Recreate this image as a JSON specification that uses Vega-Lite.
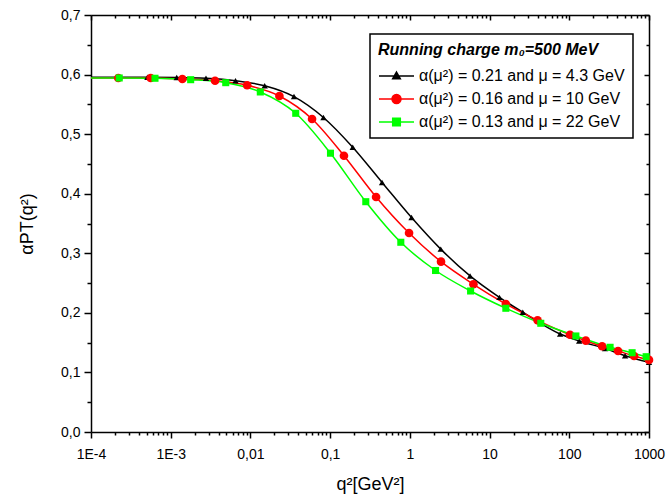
{
  "$schema": "https://vega.github.io/schema/vega-lite/v6.json",
  "width": 558,
  "height": 417,
  "autosize": "none",
  "padding": {"left": 91, "top": 15, "right": 18, "bottom": 65},
  "background": "white",
  "config": {
    "view": {"stroke": null},
    "axis": {
      "domainColor": "black",
      "domainWidth": 1.5,
      "tickColor": "black",
      "tickWidth": 1.5,
      "grid": false,
      "labelFont": "Liberation Sans",
      "labelFontSize": 14,
      "labelColor": "black",
      "titleFont": "Liberation Sans",
      "titleFontSize": 18,
      "titleFontWeight": "normal",
      "titleColor": "black",
      "labelOverlap": false,
      "labelFlush": false
    }
  },
  "datasets": {
    "curves": [
      {"s": "α(μ²) = 0.21 and μ = 4.3 GeV", "q": 0.0001, "a": 0.5955, "m": 0},
      {"s": "α(μ²) = 0.21 and μ = 4.3 GeV", "q": 0.000218, "a": 0.5955, "m": 1},
      {"s": "α(μ²) = 0.21 and μ = 4.3 GeV", "q": 0.00051, "a": 0.5955, "m": 1},
      {"s": "α(μ²) = 0.21 and μ = 4.3 GeV", "q": 0.00119, "a": 0.5952, "m": 1},
      {"s": "α(μ²) = 0.21 and μ = 4.3 GeV", "q": 0.00277, "a": 0.5938, "m": 1},
      {"s": "α(μ²) = 0.21 and μ = 4.3 GeV", "q": 0.0065, "a": 0.5897, "m": 1},
      {"s": "α(μ²) = 0.21 and μ = 4.3 GeV", "q": 0.0151, "a": 0.5813, "m": 1},
      {"s": "α(μ²) = 0.21 and μ = 4.3 GeV", "q": 0.0352, "a": 0.563, "m": 1},
      {"s": "α(μ²) = 0.21 and μ = 4.3 GeV", "q": 0.0824, "a": 0.528, "m": 1},
      {"s": "α(μ²) = 0.21 and μ = 4.3 GeV", "q": 0.192, "a": 0.478, "m": 1},
      {"s": "α(μ²) = 0.21 and μ = 4.3 GeV", "q": 0.448, "a": 0.419, "m": 1},
      {"s": "α(μ²) = 0.21 and μ = 4.3 GeV", "q": 1.05, "a": 0.36, "m": 1},
      {"s": "α(μ²) = 0.21 and μ = 4.3 GeV", "q": 2.44, "a": 0.307, "m": 1},
      {"s": "α(μ²) = 0.21 and μ = 4.3 GeV", "q": 5.69, "a": 0.262, "m": 1},
      {"s": "α(μ²) = 0.21 and μ = 4.3 GeV", "q": 13.3, "a": 0.226, "m": 1},
      {"s": "α(μ²) = 0.21 and μ = 4.3 GeV", "q": 26.1, "a": 0.201, "m": 1},
      {"s": "α(μ²) = 0.21 and μ = 4.3 GeV", "q": 76.7, "a": 0.1645, "m": 1},
      {"s": "α(μ²) = 0.21 and μ = 4.3 GeV", "q": 133, "a": 0.1528, "m": 1},
      {"s": "α(μ²) = 0.21 and μ = 4.3 GeV", "q": 281, "a": 0.14, "m": 1},
      {"s": "α(μ²) = 0.21 and μ = 4.3 GeV", "q": 501, "a": 0.128, "m": 1},
      {"s": "α(μ²) = 0.21 and μ = 4.3 GeV", "q": 1000, "a": 0.117, "m": 1},
      {"s": "α(μ²) = 0.16 and μ = 10 GeV", "q": 0.0001, "a": 0.5943, "m": 0},
      {"s": "α(μ²) = 0.16 and μ = 10 GeV", "q": 0.00022, "a": 0.5943, "m": 1},
      {"s": "α(μ²) = 0.16 and μ = 10 GeV", "q": 0.00056, "a": 0.5943, "m": 1},
      {"s": "α(μ²) = 0.16 and μ = 10 GeV", "q": 0.0014, "a": 0.5926, "m": 1},
      {"s": "α(μ²) = 0.16 and μ = 10 GeV", "q": 0.0036, "a": 0.5897, "m": 1},
      {"s": "α(μ²) = 0.16 and μ = 10 GeV", "q": 0.0091, "a": 0.582, "m": 1},
      {"s": "α(μ²) = 0.16 and μ = 10 GeV", "q": 0.0231, "a": 0.564, "m": 1},
      {"s": "α(μ²) = 0.16 and μ = 10 GeV", "q": 0.0593, "a": 0.5254, "m": 1},
      {"s": "α(μ²) = 0.16 and μ = 10 GeV", "q": 0.149, "a": 0.4638, "m": 1},
      {"s": "α(μ²) = 0.16 and μ = 10 GeV", "q": 0.377, "a": 0.3945, "m": 1},
      {"s": "α(μ²) = 0.16 and μ = 10 GeV", "q": 0.977, "a": 0.334, "m": 1},
      {"s": "α(μ²) = 0.16 and μ = 10 GeV", "q": 2.46, "a": 0.2859, "m": 1},
      {"s": "α(μ²) = 0.16 and μ = 10 GeV", "q": 6.27, "a": 0.248, "m": 1},
      {"s": "α(μ²) = 0.16 and μ = 10 GeV", "q": 16, "a": 0.2149, "m": 1},
      {"s": "α(μ²) = 0.16 and μ = 10 GeV", "q": 40, "a": 0.1875, "m": 1},
      {"s": "α(μ²) = 0.16 and μ = 10 GeV", "q": 102, "a": 0.1633, "m": 1},
      {"s": "α(μ²) = 0.16 and μ = 10 GeV", "q": 161, "a": 0.1533, "m": 1},
      {"s": "α(μ²) = 0.16 and μ = 10 GeV", "q": 258, "a": 0.1439, "m": 1},
      {"s": "α(μ²) = 0.16 and μ = 10 GeV", "q": 409, "a": 0.136, "m": 1},
      {"s": "α(μ²) = 0.16 and μ = 10 GeV", "q": 650, "a": 0.1276, "m": 1},
      {"s": "α(μ²) = 0.16 and μ = 10 GeV", "q": 1000, "a": 0.121, "m": 1},
      {"s": "α(μ²) = 0.13 and μ = 22 GeV", "q": 0.0001, "a": 0.5943, "m": 0},
      {"s": "α(μ²) = 0.13 and μ = 22 GeV", "q": 0.000226, "a": 0.5943, "m": 1},
      {"s": "α(μ²) = 0.13 and μ = 22 GeV", "q": 0.000635, "a": 0.5938, "m": 1},
      {"s": "α(μ²) = 0.13 and μ = 22 GeV", "q": 0.00178, "a": 0.5914, "m": 1},
      {"s": "α(μ²) = 0.13 and μ = 22 GeV", "q": 0.0049, "a": 0.5864, "m": 1},
      {"s": "α(μ²) = 0.13 and μ = 22 GeV", "q": 0.0133, "a": 0.5708, "m": 1},
      {"s": "α(μ²) = 0.13 and μ = 22 GeV", "q": 0.037, "a": 0.535, "m": 1},
      {"s": "α(μ²) = 0.13 and μ = 22 GeV", "q": 0.101, "a": 0.468, "m": 1},
      {"s": "α(μ²) = 0.13 and μ = 22 GeV", "q": 0.28, "a": 0.3866, "m": 1},
      {"s": "α(μ²) = 0.13 and μ = 22 GeV", "q": 0.77, "a": 0.3185, "m": 1},
      {"s": "α(μ²) = 0.13 and μ = 22 GeV", "q": 2.1, "a": 0.2711, "m": 1},
      {"s": "α(μ²) = 0.13 and μ = 22 GeV", "q": 5.78, "a": 0.2367, "m": 1},
      {"s": "α(μ²) = 0.13 and μ = 22 GeV", "q": 16, "a": 0.2077, "m": 1},
      {"s": "α(μ²) = 0.13 and μ = 22 GeV", "q": 43.9, "a": 0.1825, "m": 1},
      {"s": "α(μ²) = 0.13 and μ = 22 GeV", "q": 121, "a": 0.1612, "m": 1},
      {"s": "α(μ²) = 0.13 and μ = 22 GeV", "q": 325, "a": 0.1422, "m": 1},
      {"s": "α(μ²) = 0.13 and μ = 22 GeV", "q": 614, "a": 0.1331, "m": 1},
      {"s": "α(μ²) = 0.13 and μ = 22 GeV", "q": 920, "a": 0.1264, "m": 1}
    ]
  },
  "data": {"name": "curves"},
  "layer": [
    {
      "mark": {"type": "line", "interpolate": "monotone", "strokeWidth": 1.5},
      "encoding": {
        "x": {
          "field": "q", "type": "quantitative",
          "scale": {"type": "log", "domain": [0.0001, 1000]},
          "axis": {
            "orient": "bottom",
            "title": "q²[GeV²]",
            "values": [0.0001,0.0002,0.0003,0.0004,0.0005,0.0006,0.0007,0.0008,0.0009,0.001,0.002,0.003,0.004,0.005,0.006,0.007,0.008,0.009,0.01,0.02,0.03,0.04,0.05,0.06,0.07,0.08,0.09,0.1,0.2,0.3,0.4,0.5,0.6,0.7,0.8,0.9,1,2,3,4,5,6,7,8,9,10,20,30,40,50,60,70,80,90,100,200,300,400,500,600,700,800,900,1000],
            "labelExpr": "abs(log(datum.value)/LN10 - round(log(datum.value)/LN10)) > 0.001 ? '' : (round(log(datum.value)/LN10) == -4 ? '1E-4' : round(log(datum.value)/LN10) == -3 ? '1E-3' : round(log(datum.value)/LN10) == -2 ? '0,01' : round(log(datum.value)/LN10) == -1 ? '0,1' : format(datum.value, 'd'))",
            "tickSize": {"condition": {"test": "abs(log(datum.value)/LN10 - round(log(datum.value)/LN10)) > 0.001", "value": 3}, "value": 6},
            "labelPadding": 9,
            "titlePadding": 14
          }
        },
        "y": {
          "field": "a", "type": "quantitative",
          "scale": {"domain": [0, 0.7], "nice": false, "zero": false},
          "axis": {
            "orient": "left",
            "title": "αPT(q²)",
            "values": [0,0.05,0.1,0.15,0.2,0.25,0.3,0.35,0.4,0.45,0.5,0.55,0.6,0.65,0.7],
            "labelExpr": "abs(datum.value*10 - round(datum.value*10)) > 0.001 ? '' : replace(format(datum.value, '.1f'), '.', ',')",
            "tickSize": {"condition": {"test": "abs(datum.value*10 - round(datum.value*10)) > 0.001", "value": 4}, "value": 7},
            "labelPadding": 4,
            "titlePadding": 24
          }
        },
        "color": {
          "field": "s", "type": "nominal",
          "scale": {
            "domain": ["α(μ²) = 0.21 and μ = 4.3 GeV", "α(μ²) = 0.16 and μ = 10 GeV", "α(μ²) = 0.13 and μ = 22 GeV"],
            "range": ["#000000", "#ff0000", "#00ff00"]
          },
          "legend": {
            "title": "Running charge m₀=500 MeV",
            "orient": "none",
            "legendX": 279,
            "legendY": 19,
            "titleFont": "Liberation Sans",
            "titleFontSize": 16,
            "titleFontStyle": "italic",
            "titleFontWeight": "bold",
            "titleColor": "black",
            "titleLimit": 400,
            "titlePadding": 7,
            "labelFont": "Liberation Sans",
            "labelFontSize": 16,
            "labelColor": "black",
            "labelLimit": 400,
            "strokeColor": "black",
            "fillColor": "white",
            "padding": 8,
            "rowPadding": 4,
            "symbolType": "stroke",
            "symbolSize": 400,
            "labelOffset": 19,
            "symbolStrokeWidth": 1.5,
            "encode": {
              "legend": {"update": {"strokeWidth": {"value": 1.5}}},
              "symbols": {
                "update": {
                  "shape": {"signal": "['M-1,0L2.5,0M0.75,-0.4L1.13,0.28L0.37,0.28Z', 'M-1,0L2.5,0M0.3,0A0.45,0.45,0,1,0,1.2,0A0.45,0.45,0,1,0,0.3,0Z', 'M-1,0L2.5,0M0.37,-0.38L1.13,-0.38L1.13,0.38L0.37,0.38Z'][datum.index]"},
                  "fill": {"signal": "['#000000', '#ff0000', '#00ff00'][datum.index]"},
                  "stroke": {"signal": "['#000000', '#ff0000', '#00ff00'][datum.index]"},
                  "strokeWidth": {"value": 1.5},
                  "strokeOpacity": {"value": 1},
                  "fillOpacity": {"value": 1},
                  "opacity": {"value": 1}
                }
              }
            }
          }
        }
      }
    },
    {
      "transform": [{"filter": "datum.m == 1 && datum.s == 'α(μ²) = 0.21 and μ = 4.3 GeV'"}],
      "mark": {"type": "point", "filled": true, "opacity": 1, "shape": "triangle-up", "size": 40, "color": "#000000"},
      "encoding": {
        "x": {
          "field": "q", "type": "quantitative",
          "scale": {"type": "log", "domain": [0.0001, 1000]},
          "axis": {
            "orient": "top",
            "title": null,
            "labels": false,
            "values": [0.0001,0.0002,0.0003,0.0004,0.0005,0.0006,0.0007,0.0008,0.0009,0.001,0.002,0.003,0.004,0.005,0.006,0.007,0.008,0.009,0.01,0.02,0.03,0.04,0.05,0.06,0.07,0.08,0.09,0.1,0.2,0.3,0.4,0.5,0.6,0.7,0.8,0.9,1,2,3,4,5,6,7,8,9,10,20,30,40,50,60,70,80,90,100,200,300,400,500,600,700,800,900,1000],
            "tickSize": {"condition": {"test": "abs(log(datum.value)/LN10 - round(log(datum.value)/LN10)) > 0.001", "value": -3}, "value": -5}
          }
        },
        "y": {
          "field": "a", "type": "quantitative",
          "scale": {"domain": [0, 0.7], "nice": false, "zero": false},
          "axis": {
            "orient": "right",
            "title": null,
            "labels": false,
            "values": [0,0.05,0.1,0.15,0.2,0.25,0.3,0.35,0.4,0.45,0.5,0.55,0.6,0.65,0.7],
            "tickSize": {"condition": {"test": "abs(datum.value*10 - round(datum.value*10)) > 0.001", "value": -3}, "value": -5}
          }
        }
      }
    },
    {
      "transform": [{"filter": "datum.m == 1 && datum.s == 'α(μ²) = 0.16 and μ = 10 GeV'"}],
      "mark": {"type": "point", "filled": true, "opacity": 1, "shape": "circle", "size": 75, "color": "#ff0000"},
      "encoding": {
        "x": {"field": "q", "type": "quantitative", "scale": {"type": "log", "domain": [0.0001, 1000]}, "axis": null},
        "y": {"field": "a", "type": "quantitative", "scale": {"domain": [0, 0.7], "nice": false, "zero": false}, "axis": null}
      }
    },
    {
      "transform": [{"filter": "datum.m == 1 && datum.s == 'α(μ²) = 0.13 and μ = 22 GeV'"}],
      "mark": {"type": "point", "filled": true, "opacity": 1, "shape": "square", "size": 50, "color": "#00ff00"},
      "encoding": {
        "x": {"field": "q", "type": "quantitative", "scale": {"type": "log", "domain": [0.0001, 1000]}, "axis": null},
        "y": {"field": "a", "type": "quantitative", "scale": {"domain": [0, 0.7], "nice": false, "zero": false}, "axis": null}
      }
    }
  ],
  "resolve": {"axis": {"x": "independent", "y": "independent"}}
}
